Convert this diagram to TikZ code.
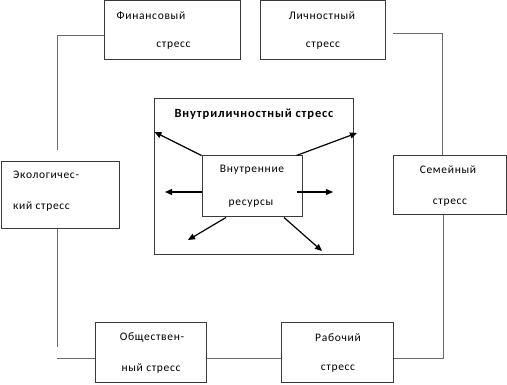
\documentclass[tikz,border=0pt]{standalone}
\usepackage{fontspec}
\setmainfont{Carlito}
\newfontfamily\spacedfont[LetterSpace=6]{Carlito}
\newfontfamily\spacedbold[LetterSpace=7]{Carlito Bold}
\usetikzlibrary{arrows.meta}
\definecolor{boxline}{HTML}{3A3A3A}
\definecolor{conline}{HTML}{6A6A6A}
\tikzset{
  box/.style={draw=boxline, line width=1pt, inner sep=0pt},
  lbl/.style={inner sep=0pt, font=\spacedfont\fontsize{11.5}{12}\selectfont, text=black},
  conn/.style={draw=conline, line width=1pt},
  arr/.style={draw=black, line width=1.2pt, -{Triangle[length=7pt,width=6pt]}},
}
\begin{document}
\begin{tikzpicture}[x=1pt,y=-1pt]
\useasboundingbox (0,0) rectangle (507,385);
% boxes
\node[box, minimum width=136pt, minimum height=59pt] (fin) at (172,30.5) {};
\node[box, minimum width=125pt, minimum height=59pt] (lich) at (322.5,30.5) {};
\node[box, minimum width=118pt, minimum height=67pt] (eco) at (60,195.5) {};
\node[box, minimum width=113pt, minimum height=59pt] (sem) at (449.5,185.5) {};
\node[box, minimum width=111pt, minimum height=60pt] (obs) at (150.5,353) {};
\node[box, minimum width=112pt, minimum height=60pt] (rab) at (337,353) {};
\node[box, minimum width=199pt, minimum height=156pt] (outer) at (253.5,177) {};
\node[box, minimum width=100pt, minimum height=61pt] (res) at (252,186.5) {};
% texts
\node[lbl] (t1) at (151,16) {Финансовый};
\node[lbl] (t2) at (173.5,46) {стресс};
\node[lbl] (t3) at (322,16) {Личностный};
\node[lbl] (t4) at (323,46) {стресс};
\node[lbl, font=\spacedbold\fontsize{12.5}{13}\selectfont] (t5) at (254,114) {Внутриличностный стресс};
\node[lbl] (t6) at (252,170) {Внутренние};
\node[lbl] (t7) at (251,204) {ресурсы};
\node[lbl, anchor=west] (t8) at (13,175) {Экологичес-};
\node[lbl, anchor=west] (t9) at (13,207) {кий стресс};
\node[lbl] (t10) at (448,170) {Семейный};
\node[lbl] (t11) at (450,203) {стресс};
\node[lbl] (t12) at (152,338) {Обществен-};
\node[lbl] (t13) at (151,369) {ный стресс};
\node[lbl] (t14) at (338,338) {Рабочий};
\node[lbl] (t15) at (338,369) {стресс};
% free ends
\coordinate (c1) at (57,150);
\coordinate (c2) at (57,347);
\coordinate (c3) at (57,359);
\coordinate (c4) at (393,34);
\coordinate (c5) at (442,155);
% connectors
\draw[conn] ([yshift=-5.5pt]fin.west) -| (c1);
\draw[conn] (eco.south -| c2) -- (c2);
\draw[conn] (c3) -- (c3 -| obs.west);
\draw[conn] ([yshift=-6pt]obs.east) -- ([yshift=-6pt]rab.west);
\draw[conn] (c4) -| (c5);
\draw[conn] (sem.south -| 443,0) |- ([yshift=-6pt]rab.east);
% arrows
\draw[arr] (res.north west) -- (154.5,132);
\draw[arr] ([xshift=-6pt]res.north east) -- (357,133);
\draw[arr] ([yshift=-5.5pt]res.west) -- (165,192);
\draw[arr] ([xshift=-6pt,yshift=-5.5pt]res.east) -- (333,192);
\draw[arr] ([xshift=-26pt]res.south) -- (188,240);
\draw[arr] ([xshift=32pt]res.south) -- (322,251);
\end{tikzpicture}
\end{document}
